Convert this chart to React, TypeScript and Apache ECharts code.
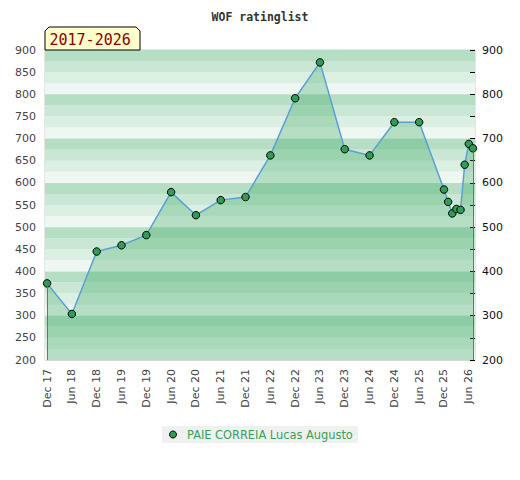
import React, { useEffect, useRef } from "react";
import * as echarts from "echarts";

const seriesName = "PAIE CORREIA Lucas Augusto";
// months since Dec 2017
const monthIdx = [0, 6, 12, 18, 24, 30, 36, 42, 48, 54, 60, 66, 72, 78, 84, 90, 96, 97, 98, 99, 100, 101, 102, 103];
const ratings = [373, 304, 445, 459, 482, 579, 527, 561, 568, 662, 791, 872, 676, 662, 737, 737, 585, 557, 531, 541, 539, 641, 688, 678];
const tickLabels = [
  "Dec 17", "Jun 18", "Dec 18", "Jun 19", "Dec 19", "Jun 20", "Dec 20", "Jun 21", "Dec 21",
  "Jun 22", "Dec 22", "Jun 23", "Dec 23", "Jun 24", "Dec 24", "Jun 25", "Dec 25", "Jun 26",
];
const yMin = 200;
const yMax = 900;
const stripeColors = ["#eff7f2", "#dcefe3", "#c9e7d4", "#b5dec5"];

export default function App() {
  const ref = useRef<HTMLDivElement>(null);
  useEffect(() => {
    document.body.style.margin = "0";
    const chart = echarts.init(ref.current!, null, { renderer: "svg" });
    const last = monthIdx.length - 1;
    const font = "DejaVu Sans";
    chart.setOption({
      animation: false,
      textStyle: { fontFamily: font },
      title: {
        text: "WOF ratinglist",
        left: "center",
        top: 6,
        textStyle: { fontFamily: "DejaVu Sans Mono", fontWeight: "bold", fontSize: 11.5, color: "#333" },
      },
      legend: {
        data: [seriesName],
        left: 162,
        top: 426,
        backgroundColor: "#f0f0f0",
        padding: [3, 5, 3, 7],
        icon: "circle",
        itemWidth: 18,
        itemHeight: 7,
        itemStyle: { color: "#2e9d57", borderColor: "#000", borderWidth: 1 },
        textStyle: { color: "#33a357", fontSize: 11.4, fontFamily: font },
      },
      grid: {
        left: 45,
        right: 45,
        top: 50,
        bottom: 120,
        show: true,
        borderColor: "#cccccc",
        borderWidth: 1,
        backgroundColor: "transparent",
      },
      xAxis: {
        type: "value",
        min: -0.5,
        max: 103.5,
        interval: 0.5,
        axisLine: { show: false },
        axisTick: { show: false },
        splitLine: { show: false },
        axisLabel: {
          interval: 0,
          rotate: 90,
          margin: 9,
          fontSize: 11,
          color: "#444",
          fontFamily: font,
          formatter: (v: number) => {
            if (Math.abs(v % 6) < 1e-6 && v >= 0) return tickLabels[Math.round(v / 6)] ?? "";
            return "";
          },
        },
      },
      yAxis: [
        {
          type: "value",
          position: "left",
          min: yMin,
          max: yMax,
          interval: 50,
          axisLine: { show: false },
          axisTick: { show: false },
          splitLine: { show: false },
          axisLabel: { fontSize: 11, color: "#444", margin: 9, fontFamily: font },
        },
        {
          type: "value",
          position: "right",
          min: yMin,
          max: yMax,
          interval: 100,
          axisLine: { show: false },
          axisTick: { show: true, inside: true, length: 5, lineStyle: { color: "#000" } },
          minorTick: { show: true, splitNumber: 2, length: 5, lineStyle: { color: "#000" } },
          splitLine: { show: true, lineStyle: { color: "#d6d6d6", width: 1 } },
          axisLabel: { fontSize: 11, color: "#111", margin: 7, fontFamily: font },
        },
        {
          type: "value",
          position: "left",
          min: yMin,
          max: yMax,
          interval: 25,
          axisLine: { show: false },
          axisTick: { show: false },
          axisLabel: { show: false },
          splitLine: { show: false },
          splitArea: { show: true, areaStyle: { color: stripeColors } },
        },
      ],
      graphic: [
        {
          type: "polygon",
          shape: { points: [[45, 50], [45, 31], [49, 27], [136, 27], [140, 31], [140, 50]] },
          style: { fill: "#ffffcc", stroke: "#000", lineWidth: 1 },
          z: 10,
        },
        {
          type: "text",
          x: 49.5,
          y: 40,
          style: {
            text: "2017-2026",
            font: "15px 'DejaVu Sans Mono'",
            fill: "#8b0000",
            verticalAlign: "middle",
          },
          z: 11,
        },
      ],
      series: [
        {
          name: seriesName,
          type: "line",
          yAxisIndex: 0,
          data: monthIdx.map((m, i) => [m, ratings[i]]),
          symbol: "circle",
          symbolSize: 7.5,
          itemStyle: { color: "#2e9d57", borderColor: "#000", borderWidth: 1 },
          lineStyle: { color: "#5a9fd6", width: 1.5 },
          areaStyle: { color: "rgba(41,160,84,0.41)", origin: "start" },
          markLine: {
            silent: true,
            symbol: "none",
            label: { show: false },
            lineStyle: { color: "#2a9a50", width: 1, type: "solid" },
            data: [
              [{ coord: [monthIdx[0], yMin] }, { coord: [monthIdx[0], ratings[0]] }],
              [{ coord: [monthIdx[last], yMin] }, { coord: [monthIdx[last], ratings[last]] }],
            ],
          },
        },
      ],
    });
    return () => chart.dispose();
  }, []);
  return <div ref={ref} style={{ width: 520, height: 480 }} />;
}
